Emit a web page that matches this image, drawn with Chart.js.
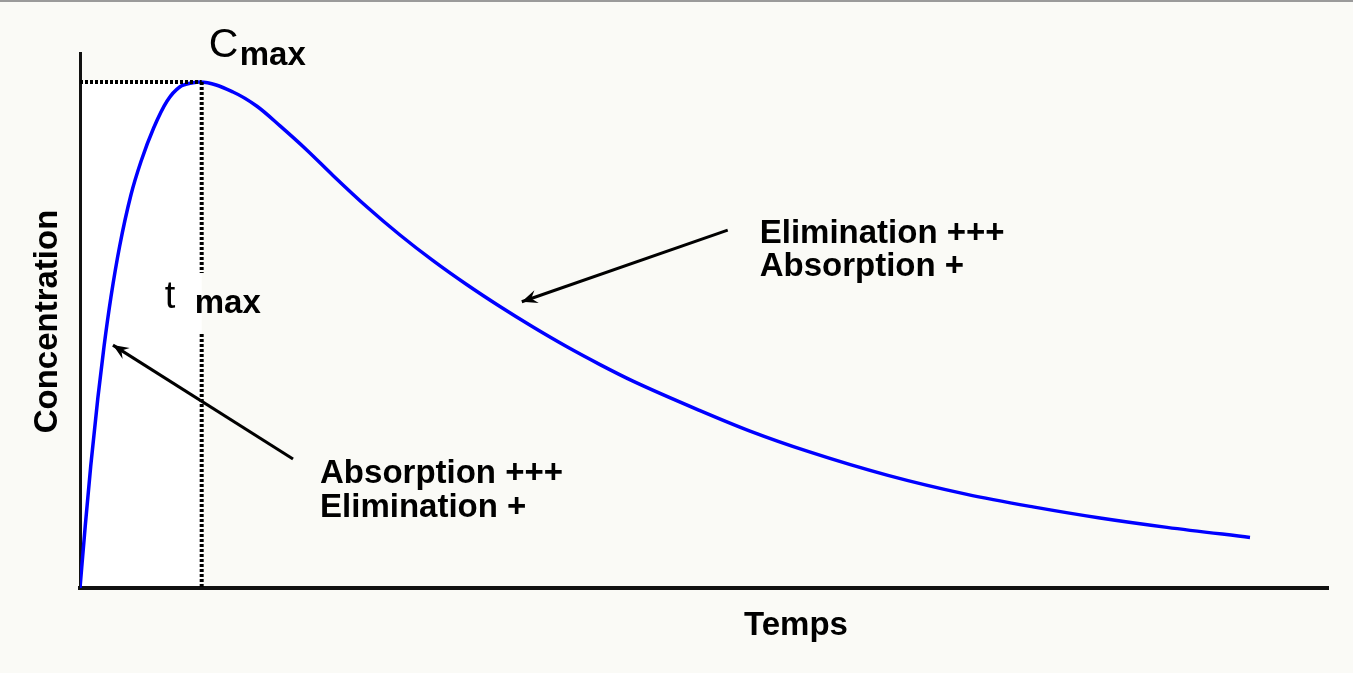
<!DOCTYPE html>
<html>
<head>
    <title>Cmax / tmax</title>
    <script src="https://cdn.jsdelivr.net/npm/chart.js"></script>
    <style>
        body { margin: 0; background: #fafaf6; overflow: hidden; }
        .topline { position: absolute; left: 0; top: 0; width: 1353px; height: 2px; background: #9a9a9a; }
        .wrap { position: relative; width: 1353px; height: 673px; }
    </style>
</head>
<body>
    <div class="wrap">
        <canvas id="pkChart"></canvas>
    </div>
    <div class="topline"></div>

    <script>
        // temps (unites arbitraires) et concentration (% de l'echelle)
        const temps = [0, 0.42, 0.86, 1.43, 1.92, 2.48, 3.18, 4.08, 4.9, 5.9, 6.98, 7.99, 9.05, 9.62,
            12.26, 14.18, 16.03, 18.19, 20.27, 23.0, 25.64, 28.29, 31.01, 33.65, 36.3, 39.02, 41.67, 44.31,
            49.68, 53.69, 58.33, 64.74, 71.07, 76.36, 81.73, 87.1, 93.75];
        const concentration = [0, 11.59, 22.8, 35.51, 45.05, 54.39, 63.93, 73.46, 79.81, 85.98, 91.03, 93.64, 94.43, 94.58,
            92.71, 90.04, 86.37, 81.83, 77.12, 71.21, 65.98, 61.18, 56.67, 52.6, 48.77, 45.08, 41.76, 38.67,
            33.16, 29.33, 25.53, 21.05, 17.5, 15.16, 13.08, 11.33, 9.46];

        const tmax = 9.75;
        const cmax = 94.6;
        // trou dans la ligne de tmax pour le libelle
        const tmaxGap = [58.9, 47.5];

        // fleches : [x pointe, y pointe, x queue, y queue]
        const arrows = [
            [2.64, 45.4, 17.07, 24.1],
            [35.4, 53.5, 51.9, 66.9]
        ];
        const phaseAbsorption = ['Absorption +++', 'Elimination +'];
        const phaseElimination = ['Elimination +++', 'Absorption +'];

        const curve = temps.map((t, i) => ({ x: t, y: concentration[i] }));

        const decorations = {
            id: 'decorations',
            beforeDraw(chart) {
                const { ctx, scales: { x, y } } = chart;
                ctx.save();
                ctx.fillStyle = '#ffffff';
                ctx.fillRect(x.getPixelForValue(0), y.getPixelForValue(cmax),
                    x.getPixelForValue(tmax) - x.getPixelForValue(0),
                    y.getPixelForValue(0) - y.getPixelForValue(cmax));
                ctx.restore();
            },
            afterDatasetsDraw(chart) {
                const { ctx, chartArea, scales: { x, y } } = chart;
                ctx.save();
                ctx.strokeStyle = '#000';
                ctx.fillStyle = '#000';
                ctx.lineWidth = 3;
                ctx.lineCap = 'butt';
                arrows.forEach(a => {
                    const tx = x.getPixelForValue(a[0]), ty = y.getPixelForValue(a[1]);
                    const qx = x.getPixelForValue(a[2]), qy = y.getPixelForValue(a[3]);
                    const ang = Math.atan2(qy - ty, qx - tx);
                    ctx.beginPath();
                    ctx.moveTo(qx, qy);
                    ctx.lineTo(tx, ty);
                    ctx.stroke();
                    ctx.beginPath();
                    ctx.moveTo(tx, ty);
                    ctx.lineTo(tx + 17 * Math.cos(ang + 0.4), ty + 17 * Math.sin(ang + 0.4));
                    ctx.lineTo(tx + 10 * Math.cos(ang), ty + 10 * Math.sin(ang));
                    ctx.lineTo(tx + 17 * Math.cos(ang - 0.4), ty + 17 * Math.sin(ang - 0.4));
                    ctx.closePath();
                    ctx.fill();
                });

                ctx.textBaseline = 'alphabetic';
                ctx.textAlign = 'left';
                const px = x.getPixelForValue(tmax);
                const py = y.getPixelForValue(cmax);

                // Cmax
                ctx.font = '41px "Liberation Sans", Arial, sans-serif';
                ctx.fillText('C', px + 7, py - 25);
                ctx.font = 'bold 33px "Liberation Sans", Arial, sans-serif';
                ctx.fillText('max', px + 38, py - 17);

                // t max
                ctx.font = '38px "Liberation Sans", Arial, sans-serif';
                ctx.fillText('t', px - 37, y.getPixelForValue(tmaxGap[0]) + 35);
                ctx.font = 'bold 33px "Liberation Sans", Arial, sans-serif';
                ctx.fillText('max', px - 7, y.getPixelForValue(tmaxGap[0]) + 40);

                // phases
                const a0 = arrows[0], a1 = arrows[1];
                let bx = x.getPixelForValue(a0[2]) + 27, by = y.getPixelForValue(a0[3]) + 24;
                phaseAbsorption.forEach((s, i) => ctx.fillText(s, bx, by + i * 34));
                bx = x.getPixelForValue(a1[2]) + 32; by = y.getPixelForValue(a1[3]) + 13;
                phaseElimination.forEach((s, i) => ctx.fillText(s, bx, by + i * 33));

                // titres des axes
                ctx.textAlign = 'center';
                ctx.fillText('Temps', (chartArea.left + chartArea.right) / 2 + 92, chartArea.bottom + 47);
                ctx.translate(chartArea.left - 23, (chartArea.top + chartArea.bottom) / 2 + 1);
                ctx.rotate(-Math.PI / 2);
                ctx.fillText('Concentration', 0, 0);
                ctx.restore();
            }
        };

        const dotted = {
            borderColor: '#000',
            borderWidth: 4,
            borderDash: [3, 2],
            pointRadius: 0,
            spanGaps: false,
            fill: false
        };

        new Chart(document.getElementById('pkChart'), {
            type: 'line',
            data: {
                datasets: [
                    {
                        ...dotted,
                        data: [{ x: 0, y: cmax }, { x: tmax, y: cmax }]
                    },
                    {
                        ...dotted,
                        data: [{ x: tmax, y: cmax }, { x: tmax, y: tmaxGap[0] }, { x: tmax, y: null },
                            { x: tmax, y: tmaxGap[1] }, { x: tmax, y: 0 }]
                    },
                    {
                        data: curve,
                        borderColor: '#0000ff',
                        borderWidth: 3.5,
                        pointRadius: 0,
                        cubicInterpolationMode: 'monotone',
                        fill: false
                    }
                ]
            },
            options: {
                responsive: true,
                maintainAspectRatio: false,
                devicePixelRatio: 1,
                animation: false,
                layout: { padding: { left: 80, right: 25, top: 53, bottom: 85 } },
                plugins: {
                    legend: { display: false },
                    tooltip: { enabled: false }
                },
                scales: {
                    x: {
                        type: 'linear',
                        min: 0,
                        max: 100,
                        ticks: { display: false },
                        grid: { display: false, drawTicks: false },
                        border: { display: true, color: '#111', width: 4 }
                    },
                    y: {
                        min: 0,
                        max: 100,
                        ticks: { display: false },
                        grid: { display: false, drawTicks: false },
                        border: { display: true, color: '#111', width: 3 }
                    }
                }
            },
            plugins: [decorations]
        });
    </script>
</body>
</html>
